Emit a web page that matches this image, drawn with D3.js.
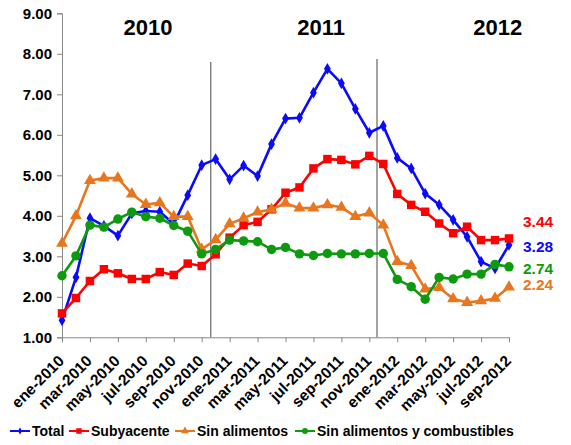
<!DOCTYPE html>
<html>
<head>
<meta charset="utf-8">
<script src="https://cdn.jsdelivr.net/npm/d3@7/dist/d3.min.js"></script>
<style>
  html, body { margin: 0; padding: 0; background: #fff; }
  svg text { font-family: Arial, "Liberation Sans", sans-serif; font-weight: bold; }
</style>
</head>
<body>
<svg id="chart" width="571" height="445"></svg>
<script>
// Monthly inflation rates (%), January 2010 to September 2012
const months = [
  "ene-2010","feb-2010","mar-2010","abr-2010","may-2010","jun-2010","jul-2010","ago-2010","sep-2010","oct-2010","nov-2010","dic-2010",
  "ene-2011","feb-2011","mar-2011","abr-2011","may-2011","jun-2011","jul-2011","ago-2011","sep-2011","oct-2011","nov-2011","dic-2011",
  "ene-2012","feb-2012","mar-2012","abr-2012","may-2012","jun-2012","jul-2012","ago-2012","sep-2012"
];
const total = [1.42,2.48,3.94,3.75,3.51,4.06,4.12,4.10,3.80,4.51,5.25,5.40,
               4.90,5.24,4.98,5.77,6.40,6.42,7.04,7.63,7.27,6.64,6.05,6.22,
               5.43,5.17,4.55,4.27,3.90,3.48,2.87,2.70,3.28];
const subyacente = [1.59,1.97,2.39,2.68,2.58,2.44,2.44,2.61,2.54,2.82,2.76,3.05,
                    3.46,3.77,3.85,4.16,4.57,4.70,5.17,5.40,5.38,5.27,5.48,5.28,
                    4.54,4.27,4.10,3.81,3.57,3.73,3.40,3.40,3.44];
const sinAlimentos = [3.32,4.00,4.87,4.93,4.93,4.54,4.28,4.32,3.98,3.98,3.17,3.41,
                      3.80,3.94,4.09,4.16,4.31,4.19,4.19,4.27,4.21,3.98,4.07,3.77,
                      2.87,2.77,2.19,2.23,1.95,1.86,1.90,1.96,2.24];
const sinAlimComb = [2.52,3.01,3.77,3.72,3.92,4.09,3.98,3.94,3.76,3.62,3.06,3.17,
                     3.40,3.38,3.36,3.17,3.22,3.06,3.02,3.07,3.06,3.06,3.07,3.07,
                     2.43,2.25,1.94,2.48,2.44,2.56,2.56,2.80,2.74];
const yTicks = [1,2,3,4,5,6,7,8,9];
const years = [
  { label: "2010", pos: 6.15 },
  { label: "2011", pos: 18.55 },
  { label: "2012", pos: 31.2 }
];
// Year separators, placed between months
const separators = [10.65, 22.55];

const series = [
  { name: "Total", values: total, color: "#0a0aff", marker: "diamond" },
  { name: "Subyacente", values: subyacente, color: "#ff0000", marker: "square" },
  { name: "Sin alimentos", values: sinAlimentos, color: "#e8761e", marker: "triangle" },
  { name: "Sin alimentos y combustibles", values: sinAlimComb, color: "#0e9a0e", marker: "circle" }
];

const svg = d3.select("#chart");
const x = d3.scaleLinear().domain([0, months.length - 1]).range([62, 509]);
const y = d3.scaleLinear().domain([1, 9]).range([337.3, 13.3]);

// Y axis
const yAxis = svg.append("g")
  .attr("transform", "translate(62,0)")
  .call(d3.axisLeft(y).tickValues(yTicks).tickFormat(d3.format(".2f")).tickSize(5).tickPadding(5));
yAxis.select(".domain").attr("stroke", "#888");
yAxis.selectAll(".tick line").attr("stroke", "#888");
yAxis.selectAll("text").attr("font-size", 15).attr("fill", "#000")
  .style("font-weight", "bold");

// X axis: ticks every two months, labels drawn rotated below
const xTickVals = d3.range(0, months.length, 2);
const xAxis = svg.append("g")
  .attr("transform", "translate(0,337.3)")
  .call(d3.axisBottom(x).tickValues(xTickVals).tickFormat("").tickSize(5).tickSizeOuter(0));
xAxis.select(".domain").attr("stroke", "#888");
xAxis.selectAll(".tick line").attr("stroke", "#888");

svg.append("g").selectAll("text").data(xTickVals).enter().append("text")
  .attr("transform", i => `translate(${x(i) + 3},362) rotate(-45)`)
  .attr("text-anchor", "end")
  .attr("font-size", 15.5).attr("fill", "#000")
  .text(i => months[i]);

// Year separators
svg.selectAll(".sep").data(separators).enter().append("line")
  .attr("class", "sep")
  .attr("x1", d => x(d)).attr("x2", d => x(d))
  .attr("y1", (d, i) => i === 0 ? 62 : 59).attr("y2", 337.3)
  .attr("stroke", "#666").attr("stroke-width", 1.2);

// Year labels
svg.selectAll(".year").data(years).enter().append("text")
  .attr("class", "year")
  .attr("x", d => x(d.pos)).attr("y", 35)
  .attr("text-anchor", "middle").attr("font-size", 22).attr("fill", "#000")
  .text(d => d.label);

const line = d3.line().x((d, i) => x(i)).y(d => y(d));

const symbolFor = {
  diamond: d3.symbol().type(d3.symbolDiamond).size(40),
  square: d3.symbol().type(d3.symbolSquare).size(72),
  triangle: d3.symbol().type(d3.symbolTriangle).size(62),
  circle: d3.symbol().type(d3.symbolCircle).size(70)
};
const legendSymbol = {
  diamond: d3.symbol().type(d3.symbolDiamond).size(14),
  square: d3.symbol().type(d3.symbolSquare).size(30),
  triangle: d3.symbol().type(d3.symbolTriangle).size(26),
  circle: d3.symbol().type(d3.symbolCircle).size(28)
};

series.forEach(s => {
  const g = svg.append("g");
  g.append("path").datum(s.values)
    .attr("d", line).attr("fill", "none")
    .attr("stroke", s.color).attr("stroke-width", 2.6)
    .attr("stroke-linejoin", "round");
  g.selectAll("path.mk").data(s.values).enter().append("path")
    .attr("class", "mk")
    .attr("d", symbolFor[s.marker])
    .attr("transform", (d, i) => `translate(${x(i)},${y(d)})`)
    .attr("fill", s.color);
});

// End-value labels
const endLabels = [
  { s: 1, dy: 222 },
  { s: 0, dy: 246.5 },
  { s: 3, dy: 269 },
  { s: 2, dy: 285 }
];
svg.selectAll(".endlab").data(endLabels).enter().append("text")
  .attr("class", "endlab")
  .attr("x", 523).attr("y", d => d.dy).attr("dy", "0.35em")
  .attr("font-size", 15.5).attr("fill", d => series[d.s].color)
  .text(d => series[d.s].values[series[d.s].values.length - 1].toFixed(2));

// Legend
const legendItems = [
  { s: 0, x: 10 },
  { s: 1, x: 69 },
  { s: 2, x: 175 },
  { s: 3, x: 295 }
];
const lg = svg.append("g").attr("transform", "translate(0,431)");
legendItems.forEach(li => {
  const s = series[li.s];
  const g = lg.append("g").attr("transform", `translate(${li.x},0)`);
  g.append("line").attr("x1", 0).attr("x2", 20).attr("y1", 0).attr("y2", 0)
    .attr("stroke", s.color).attr("stroke-width", 2);
  g.append("path").attr("d", legendSymbol[s.marker])
    .attr("transform", "translate(10,0)").attr("fill", s.color);
  g.append("text").attr("x", 22).attr("y", 0).attr("dy", "0.35em")
    .attr("font-size", 14).attr("fill", "#000").text(s.name);
});
</script>
</body>
</html>
